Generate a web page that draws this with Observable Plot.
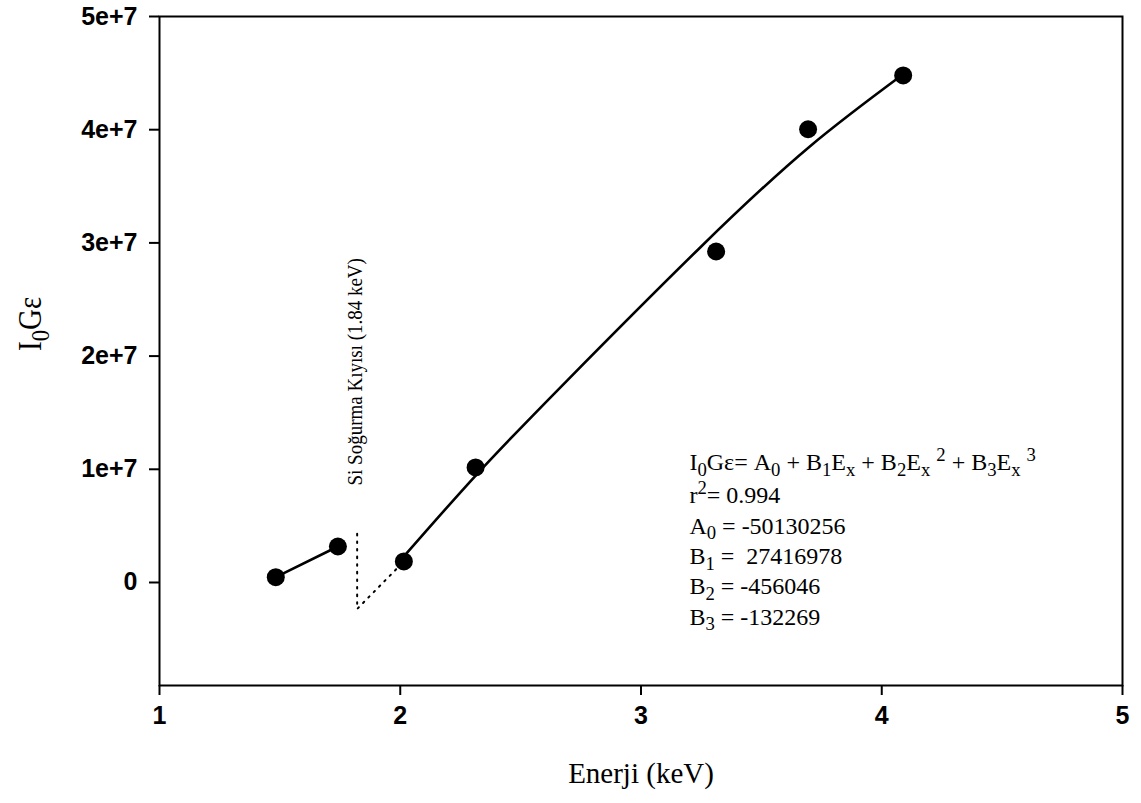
<!DOCTYPE html>
<html><head><meta charset="utf-8">
<script src="https://cdn.jsdelivr.net/npm/d3@7"></script>
<script src="https://cdn.jsdelivr.net/npm/@observablehq/plot@0.6"></script>
<style>
html,body{margin:0;padding:0;background:#fff;}
#chart svg{display:block;}
g[aria-label="x-axis tick label"], g[aria-label="y-axis tick label"]{font-family:"Liberation Sans",Arial,sans-serif !important;font-weight:bold !important;font-size:25px !important;}
text{white-space:pre;}
</style></head><body><div id="chart"></div>
<script>
// Measured points
const energy = [1.483, 1.741, 2.015, 2.313, 3.312, 3.694, 4.089];
const intensity = [4.7e5, 3.18e6, 1.86e6, 1.016e7, 2.924e7, 4.004e7, 4.479e7];
// Solid segment below the Si edge
const lowE = [1.483, 1.741];
const lowI = [4.7e5, 3.18e6];
// Fitted cubic curve
const fitE = [2.015, 2.320, 2.693, 3.247, 3.700, 4.089];
const fitI = [2.3e6, 9.6e6, 1.784e7, 2.962e7, 3.85e7, 4.49e7];
// Dotted Si absorption edge
const edgeE = [1.821, 1.821, 2.015];
const edgeI = [4.3e6, -2.34e6, 1.86e6];
// Ticks
const xTicks = [1, 2, 3, 4, 5];
const yTicks = [0, 1e7, 2e7, 3e7, 4e7, 5e7];
// Texts
const edgeLabel = "Si Soğurma Kıyısı (1.84 keV)";
const eqLines = [
  "I_0Gε= A_0 + B_1E_x + B_2E_x ^2 + B_3E_x ^3",
  "r^2= 0.994",
  "A_0 = -50130256",
  "B_1 =  27416978",
  "B_2 = -456046",
  "B_3 = -132269"
];
const xLabel = "Enerji (keV)";
const yLabel = "I_0Gε";

const pts = energy.map((e, i) => ({e, v: intensity[i]}));
const low = lowE.map((e, i) => ({e, v: lowI[i]}));
const fit = fitE.map((e, i) => ({e, v: fitI[i]}));
const edge = edgeE.map((e, i) => ({e, v: edgeI[i]}));
// equation block anchored in data units (first line has a little extra room)
const eqX = 3.201, eqTop = 1.06e7, eqStep = 2.68e6, eqFirstExtra = 2.5e5;
const eq = eqLines.map((t, i) => ({t, e: eqX, v: eqTop - i * eqStep - (i > 0 ? eqFirstExtra : 0)}));

const serif = "'Liberation Serif','Times New Roman',serif";

const chart = Plot.plot({
  width: 1141, height: 803,
  marginLeft: 159, marginRight: 19, marginTop: 16, marginBottom: 118,
  style: {background: "#fff", color: "#000"},
  x: {domain: [1, 5]},
  y: {domain: [-9.1e6, 5e7]},
  marks: [
    Plot.frame({stroke: "#000", strokeWidth: 2}),
    Plot.axisX({ticks: xTicks, tickSize: 10, tickPadding: 11, tickFormat: d => String(d), label: null, strokeWidth: 2}),
    Plot.axisY({ticks: yTicks, tickSize: 10, tickPadding: 12, tickFormat: d => d === 0 ? "0" : (d / 1e7) + "e+7", label: null, strokeWidth: 2}),
    Plot.line(low, {x: "e", y: "v", stroke: "#000", strokeWidth: 2.6}),
    Plot.line(fit, {x: "e", y: "v", stroke: "#000", strokeWidth: 2.6, curve: "natural"}),
    Plot.line(edge, {x: "e", y: "v", stroke: "#000", strokeWidth: 2, strokeDasharray: "1.6,6", strokeLinecap: "round"}),
    Plot.dot(pts, {x: "e", y: "v", r: 9, fill: "#000", stroke: "none"}),
    Plot.text([edgeLabel], {x: () => 1.814, y: () => 8.57e6, text: d => d, rotate: -90, textAnchor: "start", lineAnchor: "middle", fontFamily: serif, fontSize: 19, fill: "#000", ariaLabel: () => "wide"}),
    Plot.text(eq, {x: "e", y: "v", text: "t", textAnchor: "start", lineAnchor: "middle", fontFamily: serif, fontSize: 24, fill: "#000", ariaLabel: () => "rich"}),
    Plot.text([xLabel], {frameAnchor: "bottom", dy: 88, text: d => d, lineAnchor: "middle", fontFamily: serif, fontSize: 29, fill: "#000"}),
    Plot.text([yLabel], {frameAnchor: "left", dx: -129, text: d => d, rotate: -90, lineAnchor: "middle", fontFamily: serif, fontSize: 29, fill: "#000", ariaLabel: () => "wide"})
  ]
});

// convert _x (subscript) and ^x (superscript) markup into tspans
function richify(svg) {
  svg.querySelectorAll("text").forEach(t => {
    const s = t.textContent;
    if (!/[_^]/.test(s)) return;
    let fs = 24;
    for (let n = t; n && n.getAttribute; n = n.parentNode) {
      const a = n.getAttribute("font-size");
      if (a) { fs = parseFloat(a); break; }
    }
    while (t.firstChild) t.removeChild(t.firstChild);
    let cur = 0;
    const re = /([_^])(.)|([^_^]+)/g;
    let m;
    while ((m = re.exec(s))) {
      const ts = document.createElementNS("http://www.w3.org/2000/svg", "tspan");
      let target = 0, txt;
      if (m[1]) {
        txt = m[2];
        target = m[1] === "_" ? 0.24 * fs : -0.4 * fs;
        ts.setAttribute("font-size", (0.78 * fs) + "px");
      } else {
        txt = m[3];
      }
      const d = target - cur;
      if (d !== 0) ts.setAttribute("dy", d);
      cur = target;
      ts.textContent = txt;
      t.appendChild(ts);
    }
  });
}
// rotated serif labels look slightly heavier in the reference
function widen(svg) {
  svg.querySelectorAll('text[aria-label="wide"]').forEach(t => {
    const tr = t.getAttribute("transform");
    if (tr) t.setAttribute("transform", tr + " scale(1,1.15)");
  });
}
richify(chart);
widen(chart);
document.getElementById("chart").appendChild(chart);
</script></body></html>
